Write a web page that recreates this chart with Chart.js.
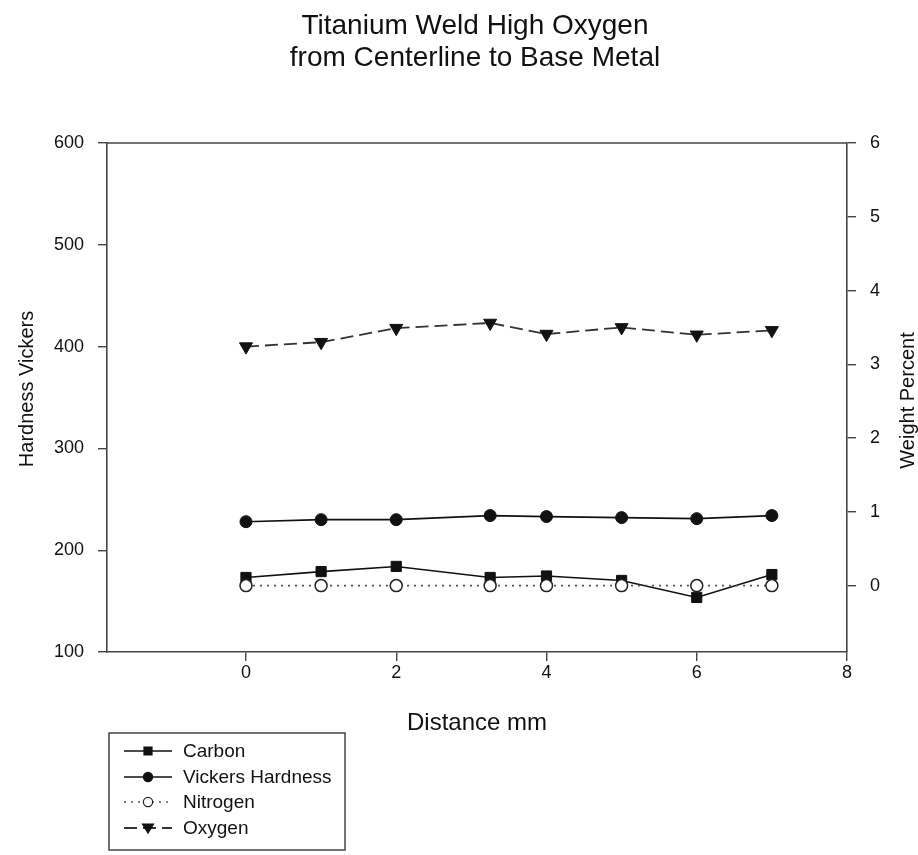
<!DOCTYPE html>
<html>
<head>
<meta charset="utf-8">
<script src="https://cdn.jsdelivr.net/npm/chart.js@4"></script>
<style>
  html, body { margin: 0; padding: 0; background: #fff; }
  #wrap { width: 918px; height: 855px; position: relative; }
</style>
</head>
<body>
<div id="wrap"><canvas id="c"></canvas></div>
<script>
// ---- data ----
const titleLines = ['Titanium Weld High Oxygen', 'from Centerline to Base Metal'];
const distance = [0, 1, 2, 3.25, 4, 5, 6, 7];            // mm
const carbon   = [0.11, 0.19, 0.26, 0.11, 0.13, 0.07, -0.16, 0.15];   // weight %
const vickers  = [228, 230, 230, 234, 233, 232, 231, 234];            // HV
const nitrogen = [0, 0, 0, 0, 0, 0, 0, 0];                             // weight %
const oxygen   = [3.24, 3.30, 3.49, 3.56, 3.41, 3.50, 3.40, 3.46];     // weight %
const xTicks = [0, 2, 4, 6, 8];
const hardnessTicks = [100, 200, 300, 400, 500, 600];
const weightTicks = [0, 1, 2, 3, 4, 5, 6];
const xTitle = 'Distance mm';
const leftTitle = 'Hardness Vickers';
const rightTitle = 'Weight Percent';

const FONT = "'Liberation Sans', Arial, Helvetica, sans-serif";
const AXIS = '#444';
const TEXT = '#111';

const pts = (ys) => distance.map((x, i) => ({ x: x, y: ys[i] }));

const datasets = [
  { label: 'Carbon', data: pts(carbon), yAxisID: 'y1', order: 1,
    borderColor: '#111', borderWidth: 1.6, backgroundColor: '#111',
    pointStyle: 'rect', pointRadius: 7.2, pointBorderWidth: 1, pointBackgroundColor: '#111', pointBorderColor: '#111',
    legendMarker: 'square' },
  { label: 'Vickers Hardness', data: pts(vickers), yAxisID: 'y', order: 1,
    borderColor: '#111', borderWidth: 1.6, backgroundColor: '#111',
    pointStyle: 'circle', pointRadius: 6, pointBorderWidth: 1, pointBackgroundColor: '#111', pointBorderColor: '#111',
    legendMarker: 'circle' },
  { label: 'Nitrogen', data: pts(nitrogen), yAxisID: 'y1', order: 0,
    borderColor: '#555', borderWidth: 1.6, borderDash: [2, 5], backgroundColor: '#fff',
    pointStyle: 'circle', pointRadius: 6, pointBorderWidth: 1.5, pointBackgroundColor: '#fff', pointBorderColor: '#222',
    legendMarker: 'open' },
  { label: 'Oxygen', data: pts(oxygen), yAxisID: 'y1', order: 1,
    borderColor: '#333', borderWidth: 1.8, borderDash: [13, 6], backgroundColor: '#111',
    pointStyle: 'triangle', rotation: 180, pointRotation: 180, pointRadius: 7.5, pointBorderWidth: 1,
    pointBackgroundColor: '#111', pointBorderColor: '#111',
    legendMarker: 'tri' }
];
datasets.forEach(d => { d.tension = 0; d.fill = false; });

const gridOpts = { display: true, drawOnChartArea: false, drawTicks: true, tickLength: 9, color: AXIS, lineWidth: 1.4 };
const borderOpts = { display: true, color: AXIS, width: 1.6 };

function setTicks(arr) {
  return (axis) => { axis.ticks = arr.map(v => ({ value: v })); };
}

const framePlugin = {
  id: 'frameAndExtras',
  afterDraw(chart) {
    const ctx = chart.ctx;
    const a = chart.chartArea;
    ctx.save();
    // top border of the plot frame
    ctx.strokeStyle = AXIS;
    ctx.lineWidth = 1.6;
    ctx.beginPath();
    ctx.moveTo(a.left, a.top);
    ctx.lineTo(a.right, a.top);
    ctx.stroke();

    // chart title
    ctx.fillStyle = TEXT;
    ctx.font = '28px ' + FONT;
    ctx.textAlign = 'center';
    ctx.textBaseline = 'alphabetic';
    titleLines.forEach((t, i) => ctx.fillText(t, 475, 34 + i * 32));

    // left axis title (reads bottom to top)
    ctx.save();
    ctx.font = '20px ' + FONT;
    ctx.textBaseline = 'middle';
    ctx.translate(27, 389);
    ctx.rotate(-Math.PI / 2);
    ctx.fillText(leftTitle, 0, 0);
    ctx.restore();

    // right axis title (reads bottom to top)
    ctx.save();
    ctx.font = '20px ' + FONT;
    ctx.textBaseline = 'middle';
    ctx.translate(908, (a.top + a.bottom) / 2 + 3);
    ctx.rotate(-Math.PI / 2);
    ctx.fillText(rightTitle, 0, 0);
    ctx.restore();
    ctx.restore();

    // legend box
    ctx.save();
    const bx = 109, by = 733, bw = 236, bh = 117;
    ctx.strokeStyle = '#444';
    ctx.lineWidth = 1.5;
    ctx.strokeRect(bx, by, bw, bh);
    const rows = [751, 777, 802, 828];
    chart.data.datasets.forEach((d, i) => {
      const y = rows[i];
      ctx.save();
      ctx.strokeStyle = d.borderColor;
      ctx.lineWidth = d.borderWidth;
      ctx.setLineDash(d.borderDash || []);
      ctx.beginPath();
      ctx.moveTo(124, y);
      ctx.lineTo(172, y);
      ctx.stroke();
      ctx.setLineDash([]);
      const mx = 148;
      ctx.lineWidth = 1.2;
      ctx.strokeStyle = d.pointBorderColor;
      ctx.fillStyle = d.pointBackgroundColor;
      ctx.beginPath();
      if (d.legendMarker === 'square') {
        ctx.rect(mx - 4, y - 4, 8, 8);
      } else if (d.legendMarker === 'circle' || d.legendMarker === 'open') {
        ctx.arc(mx, y, 4.6, 0, Math.PI * 2);
      } else {
        ctx.moveTo(mx - 5.5, y - 4);
        ctx.lineTo(mx + 5.5, y - 4);
        ctx.lineTo(mx, y + 5);
        ctx.closePath();
      }
      ctx.fill();
      ctx.stroke();
      ctx.restore();
      ctx.fillStyle = TEXT;
      ctx.font = '19px ' + FONT;
      ctx.textAlign = 'left';
      ctx.textBaseline = 'middle';
      ctx.fillText(d.label, 183, y + 1);
    });
    ctx.restore();
  }
};

new Chart(document.getElementById('c'), {
  type: 'line',
  data: { datasets: datasets },
  plugins: [framePlugin],
  options: {
    responsive: true,
    maintainAspectRatio: false,
    animation: false,
    events: [],
    layout: { padding: { left: 0, right: 0, top: 143, bottom: 115 } },
    plugins: {
      legend: { display: false },
      tooltip: { enabled: false },
      title: { display: false }
    },
    scales: {
      x: {
        type: 'linear', position: 'bottom', min: -1.85, max: 8,
        afterBuildTicks: setTicks(xTicks),
        afterFit: (s) => { s.height = 88; },
        grid: gridOpts, border: borderOpts,
        ticks: { color: TEXT, font: { family: FONT, size: 18 }, padding: 1, maxRotation: 0 },
        title: { display: true, text: xTitle, color: TEXT, font: { family: FONT, size: 24 }, padding: { top: 0, bottom: 2 } }
      },
      y: {
        type: 'linear', position: 'left', min: 100, max: 600,
        afterBuildTicks: setTicks(hardnessTicks),
        afterFit: (s) => { s.width = 107; },
        grid: gridOpts, border: borderOpts,
        ticks: { color: TEXT, font: { family: FONT, size: 18 }, padding: 14 },
        title: { display: false }
      },
      y1: {
        type: 'linear', position: 'right', min: -0.9, max: 6,
        afterBuildTicks: setTicks(weightTicks),
        afterFit: (s) => { s.width = 71; },
        grid: gridOpts, border: borderOpts,
        ticks: { color: TEXT, font: { family: FONT, size: 18 }, padding: 14 },
        title: { display: false }
      }
    }
  }
});
</script>
</body>
</html>
